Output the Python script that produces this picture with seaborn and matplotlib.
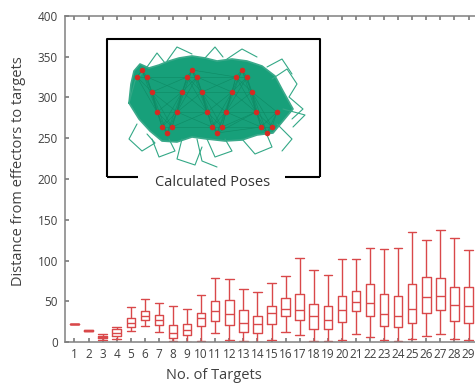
import numpy as np
import pandas as pd
import matplotlib
matplotlib.use("Agg")
import matplotlib.pyplot as plt
import seaborn as sns

# ----- box summaries (distance, per number of targets) -----
n_targets = [str(i) for i in range(1, 30)]
whisk_lo = [22, 13, 3, 4, 13, 20, 12, 1, 0.5, 1.5, 11, 3, 1, 0.5, 2.5,
            12.5, 8, 1.5, 1, 3, 10, 6, 2, 1, 4, 7.5, 10, 4, 3]
q1 = [22, 13.5, 4.5, 7.5, 18, 27, 21, 5.5, 8, 19.5, 25.5, 21, 12, 11, 21.5,
      32, 26.5, 16.5, 16.5, 24.5, 37.5, 32, 19.5, 18.5, 23.5, 35, 39, 26, 23.5]
median = [22, 14, 6, 11, 23.5, 32, 27, 11, 15, 29, 38, 34, 23, 22.5, 35,
          41, 39.5, 31.5, 27, 39.5, 49, 48, 34, 32, 41, 55, 57, 46, 44]
q3 = [22, 14.5, 7, 15.5, 29.5, 38, 33, 20.5, 22, 36, 50, 51, 39, 32, 44,
      53.5, 59, 46.5, 44, 57, 62.5, 71, 59, 57, 71, 80, 79, 67.5, 67.5]
whisk_hi = [22, 15, 9.5, 19, 42.5, 52.5, 47.5, 44.5, 40.5, 58, 78.5, 77, 64.5, 61.5, 72.5,
            80.5, 103.5, 88, 82.5, 102, 102, 115, 114, 115, 135, 125.5, 138, 127, 112.5]
y_ticks = [0, 50, 100, 150, 200, 250, 300, 350, 400]

# ----- inset sketch "Calculated Poses" (inset pixel units, y down) -----
tgt_x = [30, 35, 40, 45, 50, 55, 65, 60, 70, 75, 80, 85, 90, 95, 100,
         105, 115, 110, 119, 125, 129, 135, 140, 145, 149, 154, 165, 160, 170]
tgt_y = [38, 31, 38, 53, 73, 88, 88, 94, 73, 53, 38, 31, 38, 53, 73,
         88, 88, 94, 73, 53, 38, 31, 38, 53, 73, 88, 88, 94, 73]
core_x = [22, 24, 27, 33, 42, 52, 62, 72, 85, 98, 110, 125, 140, 155, 168, 176,
          186, 176, 166, 150, 135, 118, 100, 85, 70, 55, 43, 32]
core_y = [64, 45, 32, 25, 29, 26, 22, 19, 17, 19, 22, 20, 22, 27, 37, 52,
          70, 82, 94, 96, 101, 102, 100, 98, 103, 102, 92, 80]
stray_paths = [
    [(30, 85), (22, 100), (35, 112), (48, 104), (40, 95)],
    [(45, 100), (52, 118), (68, 112), (62, 100)],
    [(75, 100), (70, 120), (88, 126), (95, 108)],
    [(100, 100), (108, 118), (125, 112), (118, 100)],
    [(135, 100), (148, 115), (165, 108), (160, 96)],
    [(165, 40), (180, 30), (190, 45), (182, 58), (196, 70), (185, 80)],
    [(170, 85), (185, 100), (175, 112)],
    [(60, 22), (70, 8), (85, 15)],
    [(120, 20), (135, 10), (150, 18)],
    [(160, 28), (175, 20), (185, 35)],
    [(22, 64), (28, 42), (36, 33)],
    [(90, 100), (95, 122), (110, 128)],
    [(176, 70), (198, 76), (186, 88)],
    [(40, 28), (50, 14), (58, 24)],
    [(98, 19), (108, 8), (116, 18)],
]

RED = "#d9484a"
GREEN = "#17a07a"
GREY_TXT = "#404040"

rows = []
for lab, a, b, c, d, e in zip(n_targets, whisk_lo, q1, median, q3, whisk_hi):
    for v in (a, b, c, d, e):
        rows.append({"targets": lab, "dist": v})
df = pd.DataFrame(rows)

sns.set_theme(style="ticks")
plt.rcParams["font.family"] = ["Open Sans", "DejaVu Sans"]

fig = plt.figure(figsize=(4.75, 3.87), dpi=100)
ax = fig.add_axes([65 / 475, 45 / 387, 0.888, 326 / 387])

sns.boxplot(data=df, x="targets", y="dist", order=n_targets, whis=np.inf,
            color=RED, fill=False, width=0.6, linewidth=1.0, ax=ax)

# caps as wide as the boxes, like the original
for ln in ax.lines:
    xs, ys = ln.get_xdata(), ln.get_ydata()
    if len(xs) == 2 and ys[0] == ys[1] and abs(xs[1] - xs[0]) < 0.59:
        mid = (xs[0] + xs[1]) / 2
        ln.set_xdata([mid - 0.3, mid + 0.3])

ax.set_xlim(-0.675, 29.3)
ax.set_ylim(0, 400)
ax.set_yticks(y_ticks)
for side in ["left", "bottom", "top", "right"]:
    ax.spines[side].set_color("#808080")
    ax.spines[side].set_linewidth(1.1)
ax.tick_params(axis="both", direction="in", color="#808080", length=3,
               labelsize=8.5, labelcolor=GREY_TXT)
ax.tick_params(axis="x", top=True, pad=4)
ax.tick_params(axis="y", pad=5)

ax.set_xlabel("No. of Targets", fontsize=10.5, color=GREY_TXT, va="center")
ax.xaxis.set_label_coords(0.353, -0.104)
ax.set_ylabel("Distance from effectors to targets", fontsize=10.5,
              color=GREY_TXT, va="center")
ax.yaxis.set_label_coords(-0.111, 0.525)

# ----- inset -----
ins = fig.add_axes([107 / 475, 1 - 177 / 387, 213 / 475, 138 / 387])
ins.set_xlim(0, 213)
ins.set_ylim(138, 0)
ins.axis("off")
ins.fill(core_x, core_y, color=GREEN, lw=0)
ins.plot(core_x + core_x[:1], core_y + core_y[:1], color="#3aa98a", lw=1.2)
tx, ty = np.array(tgt_x), np.array(tgt_y)
for i in range(len(tx)):
    for j in range(i + 1, len(tx)):
        if np.hypot(tx[i] - tx[j], ty[i] - ty[j]) < 45:
            ins.plot([tx[i], tx[j]], [ty[i], ty[j]], color="#0e8a64", lw=0.4)
for path in stray_paths:
    px, py = zip(*path)
    ins.plot(px, py, color="#33a886", lw=0.8)
ins.scatter(tgt_x, tgt_y, s=16, color="#d32b22", zorder=5, lw=0)

frame_kw = dict(color="black", lw=1.5, clip_on=False, solid_capstyle="butt")
ins.plot([0, 0, 213, 213], [138, 0, 0, 138], **frame_kw)
ins.plot([0, 31], [138, 138], **frame_kw)
ins.plot([178, 213], [138, 138], **frame_kw)
ins.text(105.5, 144, "Calculated Poses", ha="center", va="center",
         fontsize=10.5, color="#333333", clip_on=False)

fig.savefig("out.png", dpi=100)
